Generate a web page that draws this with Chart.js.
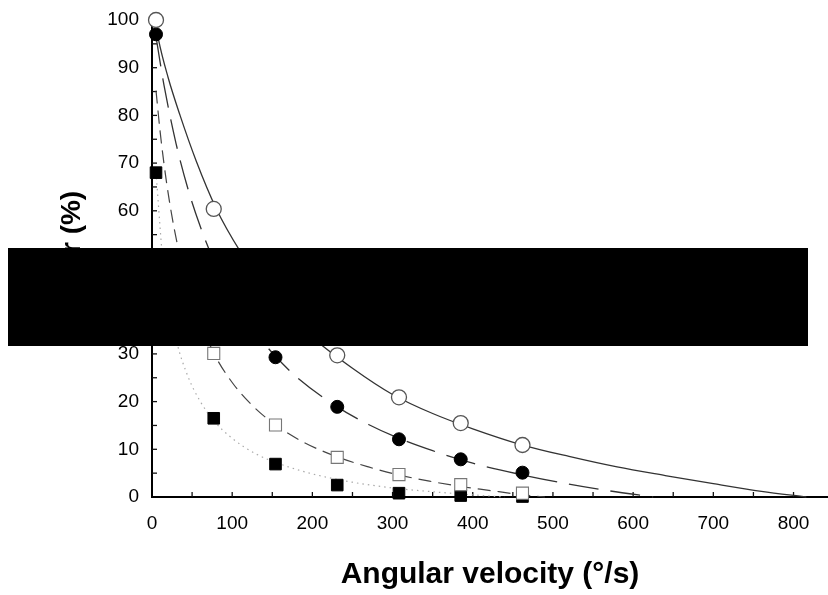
<!DOCTYPE html>
<html>
<head>
<meta charset="utf-8">
<script src="https://cdn.jsdelivr.net/npm/chart.js@4.4.1/dist/chart.umd.min.js"></script>
<style>
  html, body { margin: 0; padding: 0; background: #fff; overflow: hidden; }
  #wrap { position: relative; width: 828px; height: 595px; }
  #redact { position: absolute; left: 8px; top: 248px; width: 800px; height: 98px; background: #000; }
</style>
</head>
<body>
<div id="wrap">
  <canvas id="c" width="828" height="595"></canvas>
  <div id="redact"></div>
</div>
<script>
// ---- data ----
const velocities = [5, 77, 154, 231, 308, 385, 462];
const openCircles   = [100, 60.4, 42, 29.7, 20.9, 15.5, 10.9];
const filledCircles = [97, 49.5, 29.3, 18.9, 12.1, 7.9, 5.1];
const openSquares   = [null, 30.1, 15.1, 8.3, 4.7, 2.6, 0.8];
const filledSquares = [68, 16.5, 6.9, 2.5, 0.8, 0.3, 0.1];

// fitted curves as drawn in the reference
const solidCurveX = [5, 8, 20, 35, 55, 80, 110, 150, 200, 250, 300, 350, 400, 460, 520, 580, 640, 700, 760, 816];
const solidCurveY = [99, 96, 88, 80, 70.5, 60.5, 51.5, 42, 33.5, 27, 21.5, 17.5, 14.3, 11, 8.5, 6.3, 4.5, 2.8, 1.2, 0];
const longDashX = [5, 15, 30, 45, 60, 77, 100, 130, 154, 180, 231, 270, 308, 350, 400, 460, 520, 570, 625];
const longDashY = [96.5, 86.3, 74.1, 64.5, 56.8, 49.6, 41.9, 34.3, 29.5, 25.2, 18.9, 15.2, 12.3, 9.7, 7.1, 4.7, 2.7, 1.3, 0];
const shortDashX = [5, 10, 15, 22, 33, 50, 77, 100, 125, 154, 190, 231, 270, 308, 350, 385, 420, 460, 490];
const shortDashY = [85.2, 76.8, 69.8, 61.7, 51.9, 41.2, 30.2, 24, 19.2, 15.1, 11.4, 8.4, 6.3, 4.6, 3.2, 2.2, 1.4, 0.5, 0];
const dottedX = [5, 15, 30, 45, 60, 77, 100, 130, 160, 200, 250, 300, 350, 400, 440];
const dottedY = [68, 46.8, 33.1, 25.2, 20.1, 16, 12.3, 9, 6.9, 4.85, 3.1, 1.9, 1.1, 0.45, 0];

const xTickLabels = [0, 100, 200, 300, 400, 500, 600, 700, 800];
const yTickLabels = [0, 10, 20, 30, 40, 50, 60, 70, 80, 90, 100];
const xMinorTicks = [50, 100, 150, 200, 250, 300, 350, 400, 450, 500, 550, 600, 650, 700, 750, 800];
const yMinorTicks = [5, 10, 15, 20, 25, 30, 35, 40, 45, 50, 55, 60, 65, 70, 75, 80, 85, 90, 95];

const xTitle = 'Angular velocity (°/s)';
const yTitle = 'Power (%)';

// ---- helpers ----
const pts = (xs, ys) => xs.map((x, i) => ({x: x, y: ys[i]})).filter(p => p.y !== null);

const innerTicks = {
  id: 'innerTicks',
  beforeDatasetsDraw(chart) {
    const {ctx, chartArea, scales} = chart;
    ctx.save();
    ctx.strokeStyle = '#111';
    ctx.lineWidth = 1.3;
    xMinorTicks.forEach(v => {
      const px = scales.x.getPixelForValue(v);
      ctx.beginPath(); ctx.moveTo(px, chartArea.bottom); ctx.lineTo(px, chartArea.bottom - 5); ctx.stroke();
    });
    yMinorTicks.forEach(v => {
      const py = scales.y.getPixelForValue(v);
      ctx.beginPath(); ctx.moveTo(chartArea.left, py); ctx.lineTo(chartArea.left + 5, py); ctx.stroke();
    });
    ctx.restore();
  }
};

const lineDs = (data, dash, color, width) => ({
  type: 'line', data: data, showLine: true, pointRadius: 0, borderColor: color,
  borderWidth: width, borderDash: dash, fill: false, cubicInterpolationMode: 'monotone', clip: false, order: 2
});
const markDs = (data, style, radius, fill, stroke, bw) => ({
  type: 'scatter', data: data, showLine: false, pointStyle: style, pointRadius: radius,
  pointBackgroundColor: fill, pointBorderColor: stroke, pointBorderWidth: bw, clip: false, order: 1
});

const fontFam = '"Liberation Sans", Arial, sans-serif';

new Chart(document.getElementById('c'), {
  type: 'scatter',
  data: {
    datasets: [
      lineDs(pts(solidCurveX, solidCurveY), [], '#333', 1.3),
      lineDs(pts(longDashX, longDashY), [30, 12], '#333', 1.3),
      lineDs(pts(shortDashX, shortDashY), [13, 7], '#444', 1.2),
      lineDs(pts(dottedX, dottedY), [1.5, 4], '#aaa', 1.2),
      markDs(pts(velocities, openCircles), 'circle', 7.5, '#fff', '#555', 1.3),
      markDs(pts(velocities, filledCircles), 'circle', 6.5, '#000', '#000', 1),
      markDs(pts(velocities, openSquares), 'rect', 8.5, '#fff', '#777', 1.1),
      markDs(pts(velocities, filledSquares), 'rect', 8.2, '#000', '#000', 1)
    ]
  },
  options: {
    responsive: false,
    animation: false,
    layout: { autoPadding: false, padding: { left: 0, right: 0, top: 20, bottom: 0 } },
    plugins: { legend: { display: false }, tooltip: { enabled: false } },
    scales: {
      x: {
        type: 'linear', min: 0, max: 843,
        afterFit: s => { s.height = 98; },
        afterBuildTicks: s => { s.ticks = xTickLabels.map(v => ({value: v})); },
        grid: { display: false, drawTicks: true, tickLength: 15 },
        border: { display: true, color: '#000', width: 2 },
        ticks: { padding: 0, color: '#000', maxRotation: 0, autoSkip: false,
                 font: { family: fontFam, size: 19 } },
        title: { display: true, text: xTitle, color: '#000', padding: { top: 0, bottom: 2 },
                 font: { family: fontFam, size: 30, weight: 'bold' } }
      },
      y: {
        type: 'linear', min: 0, max: 100,
        afterFit: s => { s.width = 152; },
        afterBuildTicks: s => { s.ticks = yTickLabels.map(v => ({value: v})); },
        grid: { display: false, drawTicks: true, tickLength: 13 },
        border: { display: true, color: '#000', width: 2 },
        ticks: { padding: 0, color: '#000', autoSkip: false,
                 font: { family: fontFam, size: 19 } },
        title: { display: true, text: yTitle, color: '#000', padding: { top: 55, bottom: 0 },
                 font: { family: fontFam, size: 28, weight: 'bold' } }
      }
    }
  },
  plugins: [innerTicks]
});
</script>
</body>
</html>
